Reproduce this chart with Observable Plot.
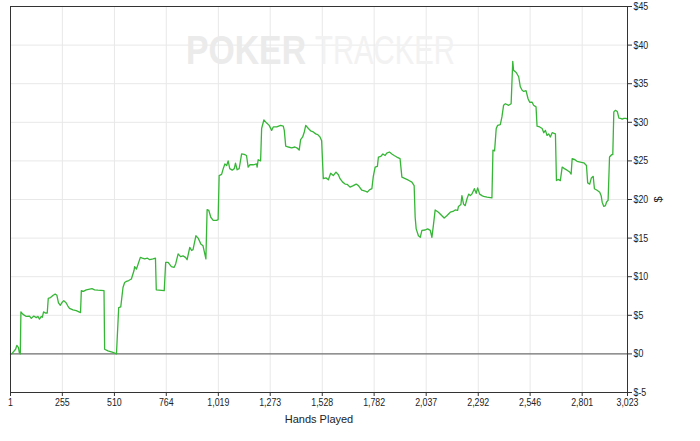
<!DOCTYPE html>
<html>
<head>
<meta charset="utf-8">
<script src="https://cdn.jsdelivr.net/npm/d3@7"></script>
<script src="https://cdn.jsdelivr.net/npm/@observablehq/plot@0.6"></script>
<style>
  html, body { margin: 0; padding: 0; background: #fff; }
  #chart svg { display: block; }
</style>
</head>
<body>
<div id="chart"></div>
<script>
const hands = [1,7,26,32,40,44,49,52,61,78,94,103,115,127,135,143,152,157,163,171,181,186,197,210,220,228,236,245,253,262,274,282,290,307,323,344,348,358,372,389,400,413,429,459,462,478,503,520,531,541,552,560,569,580,593,606,609,618,637,647,658,672,683,699,711,715,754,761,773,789,802,810,822,834,846,858,866,879,888,895,909,920,933,944,958,964,972,982,994,1010,1018,1023,1035,1043,1051,1060,1067,1075,1087,1097,1103,1111,1121,1133,1146,1157,1165,1174,1190,1206,1209,1214,1226,1231,1242,1256,1268,1280,1288,1305,1324,1337,1342,1349,1362,1378,1394,1403,1415,1422,1432,1440,1447,1460,1471,1484,1496,1506,1517,1525,1533,1546,1558,1569,1582,1595,1607,1615,1628,1640,1651,1664,1680,1694,1705,1722,1738,1749,1759,1771,1778,1787,1798,1803,1815,1825,1836,1844,1857,1869,1880,1893,1909,1918,1934,1950,1967,1978,1983,1988,1999,2008,2016,2032,2044,2057,2065,2073,2081,2097,2114,2125,2138,2155,2168,2179,2191,2195,2207,2212,2220,2228,2237,2245,2253,2261,2273,2282,2289,2299,2310,2318,2335,2359,2364,2372,2380,2387,2400,2408,2416,2425,2441,2453,2461,2465,2478,2490,2498,2507,2515,2526,2536,2544,2556,2563,2575,2580,2593,2605,2613,2621,2629,2637,2645,2654,2670,2675,2683,2694,2703,2714,2727,2740,2747,2752,2763,2776,2792,2809,2822,2828,2838,2846,2855,2861,2874,2887,2894,2899,2907,2915,2920,2928,2935,2945,2951,2956,2964,2973,2981,2989,2997,3005,3017,3023];
const profit = [0,0,0.6,1.1,0.8,0.2,0,5.45,5.15,4.85,4.9,4.6,4.9,4.7,4.85,4.5,4.85,4.75,5.45,5.3,5.3,7.2,7.3,7.6,7.75,7.6,6.6,6.3,6.65,6.9,6.6,6.2,5.9,5.7,5.6,5.35,8.2,8.1,8.3,8.4,8.45,8.3,8.25,8.2,0.6,0.4,0.2,0,6.0,6.1,8.6,9.25,9.4,9.5,9.7,10.8,11.3,11.0,12.5,12.4,12.3,12.4,12.2,12.3,12.4,8.3,8.2,11.85,11.85,11.3,11.2,11.65,12.95,12.6,12.7,12.5,12.2,13.8,13.4,13.5,15.3,15.0,14.25,14.0,12.3,18.7,18.6,17.7,17.3,17.3,17.4,23.1,23.25,24.0,24.6,24.4,25.0,24.0,23.8,24.0,24.7,23.85,24.0,25.9,25.85,25.7,24.2,24.5,24.5,24.6,24.2,25.15,25.0,29.2,30.3,29.9,29.6,28.95,29.4,29.4,29.6,29.5,28.95,26.9,26.8,26.7,26.8,26.7,26.4,27.75,28.1,28.75,29.6,29.2,28.9,28.75,28.5,28.4,28.1,27.6,22.7,22.8,22.55,23.4,23.1,23.55,23.2,22.7,22.25,22.0,21.95,21.6,21.8,22.0,21.8,21.2,21.1,20.95,21.25,21.4,23.0,24.2,24.3,25.5,25.6,25.9,25.7,26.0,26.15,25.9,25.7,25.5,25.3,22.9,22.7,22.5,22.25,21.8,17.7,16.2,15.3,15.1,16.0,16.05,16.2,16.0,15.1,16.8,18.65,18.35,17.9,17.6,17.9,18.35,18.45,18.65,18.6,19.1,19.35,20.5,19.4,19.2,20.1,20.7,20.5,20.7,21.4,20.8,21.5,20.7,20.5,20.4,20.3,20.2,26.4,26.3,29.2,29.6,29.7,30.7,32.2,32.4,32.2,32.4,37.9,36.75,36.45,35.9,34.6,34.15,34.0,34.1,33.05,32.6,32.6,32.2,32.0,29.5,29.4,29.2,28.65,28.95,28.3,28.5,28.1,28.65,28.5,22.45,22.6,22.45,24.2,24.0,23.8,23.55,23.3,25.3,25.2,24.95,24.85,24.75,24.4,22.15,22.0,22.8,23.0,21.4,21.2,20.95,20.5,19.65,19.1,19.2,19.65,19.9,25.5,25.8,25.8,31.35,31.55,31.4,30.55,30.5,30.4,30.5,30.5,30.4];
const xTicks = [1,255,510,764,1019,1273,1528,1782,2037,2292,2546,2801,3023];
const yTicks = [-5,0,5,10,15,20,25,30,35,40,45];
const xLabel = "Hands Played";
const yLabel = "$";
const watermarkA = "POKER";
const watermarkB = "TRACKER";

const data = hands.map((h, i) => ({hand: h, profit: profit[i]}));

const font = "'Liberation Sans', Arial, sans-serif";

const chart = Plot.plot({
  width: 700,
  height: 441,
  marginLeft: 10,
  marginRight: 73,
  marginTop: 6,
  marginBottom: 49,
  style: {fontFamily: font, fontSize: "11px", color: "#222", background: "#fff"},
  x: {domain: [1, 3023]},
  y: {domain: [-5, 45]},
  marks: [
    Plot.gridX(xTicks, {stroke: "#e8e8e8", strokeOpacity: 1}),
    Plot.gridY(yTicks, {stroke: "#e8e8e8", strokeOpacity: 1}),
    Plot.text([watermarkA], {className: "wm-a", frameAnchor: "top", dy: 45, dx: -13, textAnchor: "end", lineAnchor: "middle", fontSize: 40, fontWeight: "bold", fill: "#ebebeb", fontFamily: font}),
    Plot.text([watermarkB], {className: "wm-b", frameAnchor: "top", dy: 45, dx: -4, textAnchor: "start", lineAnchor: "middle", fontSize: 40, fill: "#f2f2f2", fontFamily: font}),
    Plot.ruleY([0], {stroke: "#555", strokeWidth: 1}),
    Plot.line(data, {x: "hand", y: "profit", stroke: "#36b636", strokeWidth: 1.3}),
    Plot.frame({stroke: "#333"}),
    Plot.axisX({className: "ax", ticks: xTicks, tickFormat: d3.format(","), tickSize: 4, tickPadding: 2, label: xLabel, labelAnchor: "center", labelArrow: "none", labelOffset: 30, stroke: "#333"}),
    Plot.axisY({className: "ax", anchor: "right", ticks: yTicks, tickFormat: d => "$" + d, tickSize: 4, tickPadding: 2, label: yLabel, labelAnchor: "center", labelArrow: "none", labelOffset: 34, stroke: "#333"})
  ]
});
document.getElementById("chart").appendChild(chart);

// emulate the narrow typeface of the original by condensing glyphs
d3.select(chart).selectAll(".ax text").each(function () {
  const w = this.getComputedTextLength();
  if (w > 0) this.setAttribute("textLength", (w * 0.8).toFixed(1)), this.setAttribute("lengthAdjust", "spacingAndGlyphs");
});
d3.select(chart).selectAll(".wm-a text").attr("textLength", 120).attr("lengthAdjust", "spacingAndGlyphs");
d3.select(chart).selectAll(".wm-b text").attr("textLength", 140).attr("lengthAdjust", "spacingAndGlyphs");
</script>
</body>
</html>
